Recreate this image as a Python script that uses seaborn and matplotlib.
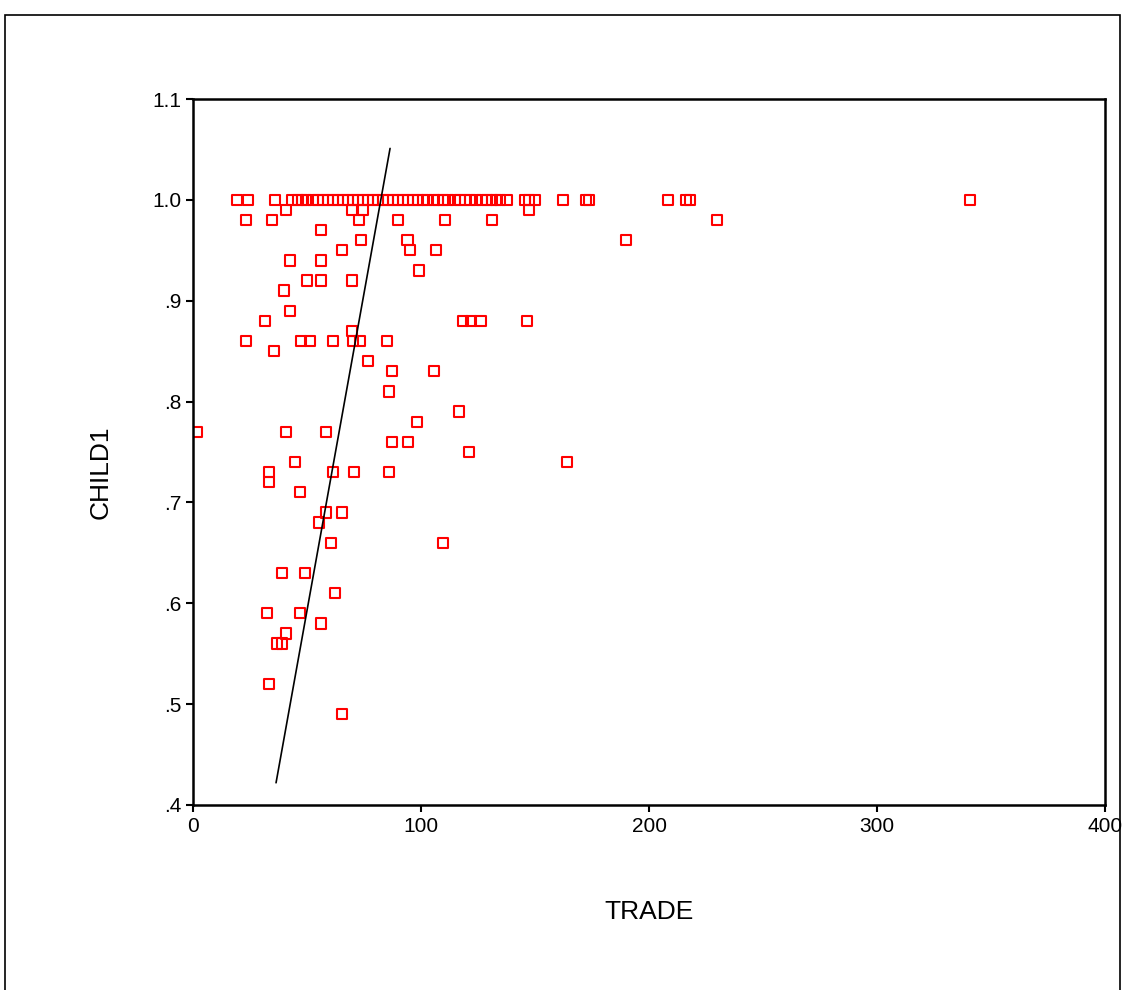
import pandas as pd
import seaborn as sns
import matplotlib.pyplot as plt
from matplotlib.patches import Rectangle

# TRADE / CHILD1 values
trade = [19.3, 24.1, 36.0, 43.4, 46.1, 47.8, 49.6, 52.6, 54.8, 57.0, 59.2, 61.4, 63.6,
         65.8, 68.0, 70.2, 72.4, 74.6, 76.8, 78.9, 81.1, 83.3, 85.5, 87.7, 89.9, 92.1,
         94.3, 96.5, 98.7, 100.9, 102.6, 105.7, 107.5, 109.6, 111.8, 114.9, 117.1,
         119.3, 121.5, 124.1, 126.8, 128.9, 131.1, 132.9, 134.6, 137.7, 145.6, 147.4,
         150.0, 162.3, 172.4, 173.7, 208.3, 216.2, 218.0, 340.8,
         40.8, 69.7, 74.6, 147.4,
         23.2, 34.6, 72.8, 89.9, 110.5, 131.1, 229.8,
         56.1,
         73.7, 94.0, 189.9,
         65.4, 95.2, 106.6,
         42.5, 56.1,
         99.1,
         50.0, 56.1, 69.7,
         39.9,
         42.5,
         31.6, 118.4, 121.9, 126.1, 146.5,
         69.7,
         23.2, 47.4, 51.3, 61.4, 70.2, 73.2, 85.1,
         35.5,
         76.8,
         87.3, 105.7,
         86.0,
         116.7,
         98.2,
         1.8, 40.8, 58.3,
         87.3, 94.3,
         121.1,
         44.7, 164.0,
         33.3, 61.4, 70.6, 86.0,
         33.3,
         46.9,
         58.3, 65.4,
         55.3,
         60.5, 109.6,
         39.0, 49.1,
         62.3,
         32.5, 46.9,
         56.1,
         40.8,
         36.8, 39.0,
         33.3,
         65.4]
child1 = [1.00] * 56 + \
         [.99] * 4 + [.98] * 7 + [.97] + [.96] * 3 + [.95] * 3 + [.94] * 2 + [.93] + \
         [.92] * 3 + [.91] + [.89] + [.88] * 5 + [.87] + [.86] * 7 + [.85] + [.84] + \
         [.83] * 2 + [.81] + [.79] + [.78] + [.77] * 3 + [.76] * 2 + [.75] + [.74] * 2 + \
         [.73] * 4 + [.72] + [.71] + [.69] * 2 + [.68] + [.66] * 2 + [.63] * 2 + [.61] + \
         [.59] * 2 + [.58] + [.57] + [.56] * 2 + [.52] + [.49]

# fit line end points
fit_x = [36.4, 86.4]
fit_y = [0.422, 1.051]

xticks = [0, 100, 200, 300, 400]
yticks = [0.4, 0.5, 0.6, 0.7, 0.8, 0.9, 1.0, 1.1]
ytick_labels = ['.4', '.5', '.6', '.7', '.8', '.9', '1.0', '1.1']

df = pd.DataFrame({'TRADE': trade, 'CHILD1': child1})
fit = pd.DataFrame({'TRADE': fit_x, 'CHILD1': fit_y})

sns.set_style("white")
plt.rcParams['font.family'] = ['Liberation Sans', 'DejaVu Sans']

fig = plt.figure(figsize=(11.25, 9.9), dpi=100)
ax = fig.add_axes([0.1716, 0.1869, 0.8107, 0.7131])

sns.scatterplot(data=df, x='TRADE', y='CHILD1', marker='s', s=55,
                facecolor='none', edgecolor='#ff0000', linewidth=1.5, ax=ax)
sns.lineplot(data=fit, x='TRADE', y='CHILD1', color='black', linewidth=1.2, ax=ax)

ax.set_xlim(0, 400)
ax.set_ylim(0.4, 1.1)
ax.set_xticks(xticks)
ax.set_yticks(yticks)
ax.set_yticklabels(ytick_labels)
ax.tick_params(axis='both', direction='out', length=5, width=1.5, labelsize=15,
               bottom=True, left=True, colors='black')
for sp in ax.spines.values():
    sp.set_color('black')
    sp.set_linewidth(1.8)

ax.set_xlabel('TRADE', fontsize=19, color='black')
ax.set_ylabel('CHILD1', fontsize=19, color='black')
ax.xaxis.set_label_coords(0.5, -0.135)
ax.yaxis.set_label_coords(-0.088, 0.472)

# outer frame
fig.patches.append(Rectangle((0.0044, -0.05), 0.9912, 1.0348, transform=fig.transFigure,
                             fill=False, edgecolor='black', linewidth=1.2))

fig.savefig('out.png', dpi=100)
